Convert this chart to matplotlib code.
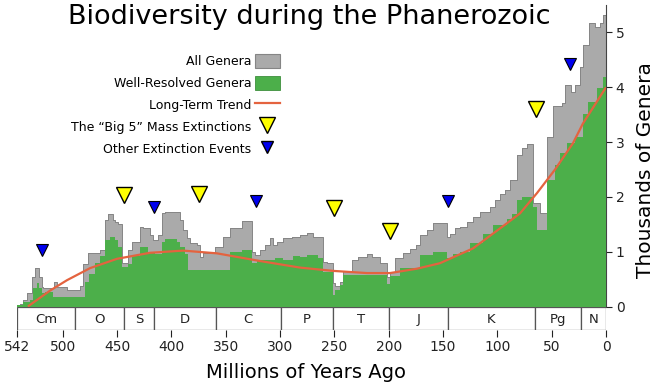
import matplotlib

matplotlib.use('Agg')

import matplotlib.pyplot as plt
from matplotlib.lines import Line2D
from matplotlib.patches import Patch

# All genera (thousands), step series: left edge in Ma -> value
ALL_MA = [542.0, 539.2, 536.5, 532.8, 528.2, 525.4, 521.8, 519.0, 518.1, 508.0,
          505.2, 496.0, 484.0, 481.3, 476.7, 465.6, 461.0, 458.3, 453.7, 451.8,
          449.1, 445.4, 439.9, 436.2, 428.8, 426.1, 419.6, 416.9, 412.3, 408.6,
          405.8, 392.0, 389.2, 385.6, 382.8, 376.4, 373.6, 370.8, 364.4, 361.6,
          359.8, 352.4, 346.0, 335.0, 325.7, 323.0, 318.4, 313.8, 309.2, 306.4,
          302.7, 297.2, 288.9, 281.6, 275.1, 269.6, 260.4, 256.7, 251.2, 249.4,
          245.0, 242.0, 233.7, 228.2, 219.9, 215.3, 208.0, 201.5, 198.8, 194.2,
          186.8, 180.4, 175.0, 171.2, 164.7, 159.2, 146.3, 143.6, 139.0, 134.3,
          127.9, 122.4, 115.9, 106.8, 102.1, 97.5, 92.9, 88.3, 81.9, 77.3,
          72.7, 67.2, 60.7, 54.3, 48.8, 40.5, 37.7, 32.2, 28.5, 24.0,
          21.2, 15.7, 10.1, 5.5, 2.8]
ALL_K = [0.02, 0.05, 0.12, 0.25, 0.54, 0.70, 0.54, 0.36, 0.33, 0.45,
         0.36, 0.31, 0.38, 0.78, 0.97, 1.03, 1.58, 1.69, 1.58, 1.54,
         1.51, 0.79, 1.03, 1.18, 1.45, 1.43, 1.30, 1.21, 1.30, 1.70,
         1.72, 1.58, 1.40, 1.25, 1.16, 1.12, 0.90, 0.98, 1.00, 0.98,
         1.09, 1.27, 1.43, 1.56, 1.00, 0.94, 1.03, 1.12, 1.25, 1.12,
         1.18, 1.25, 1.27, 1.30, 1.34, 1.27, 0.81, 0.79, 0.43, 0.38,
         0.45, 0.65, 0.85, 0.91, 0.96, 0.91, 0.79, 0.54, 0.63, 0.88,
         0.97, 1.05, 1.12, 1.30, 1.40, 1.52, 1.27, 1.33, 1.43, 1.45,
         1.54, 1.63, 1.72, 1.81, 1.94, 2.06, 2.13, 2.31, 2.76, 2.89,
         2.96, 1.88, 1.70, 3.09, 3.65, 3.71, 4.04, 3.92, 4.04, 4.37,
         4.77, 5.18, 5.10, 5.17, 5.32]

# Well-resolved genera (thousands)
WR_MA = [542.0, 536.5, 530.0, 527.3, 523.6, 521.8, 519.0, 516.2, 508.9, 479.4,
         475.7, 470.0, 465.6, 461.0, 456.4, 451.8, 449.1, 445.4, 439.9, 436.2,
         428.8, 421.5, 415.0, 408.6, 405.8, 394.8, 392.0, 387.4, 384.6, 346.0,
         335.0, 325.7, 321.1, 304.6, 297.2, 288.0, 281.6, 275.1, 265.0, 260.4,
         251.2, 249.4, 245.0, 242.0, 201.5, 198.8, 189.6, 171.2, 159.2, 146.3,
         140.8, 134.3, 125.1, 113.2, 104.0, 91.1, 86.5, 81.9, 77.3, 67.2,
         63.5, 54.3, 46.9, 42.3, 35.9, 28.5, 21.2, 16.6, 8.3, 2.8]
WR_K = [0.02, 0.08, 0.12, 0.34, 0.43, 0.34, 0.24, 0.27, 0.18, 0.45,
        0.60, 0.80, 0.92, 1.21, 1.26, 1.21, 1.09, 0.72, 0.78, 0.92,
        1.09, 1.00, 0.95, 1.18, 1.23, 1.18, 1.09, 0.95, 0.66, 1.00,
        1.03, 0.79, 0.85, 0.88, 0.85, 0.92, 0.90, 0.94, 0.88, 0.63,
        0.21, 0.30, 0.40, 0.58, 0.41, 0.55, 0.70, 0.94, 1.00, 0.88,
        0.95, 1.00, 1.15, 1.33, 1.48, 1.60, 1.69, 1.94, 2.00, 1.82,
        1.40, 2.31, 2.58, 2.80, 2.98, 3.09, 3.52, 3.73, 3.98, 4.19]

# long-term trend
TREND_MA = [532.0, 520.8, 511.6, 496.0, 474.8, 450.0, 419.6, 389.2, 358.0, 318.4,
            281.6, 251.2, 219.9, 198.8, 173.9, 152.8, 122.4, 91.1, 79.1, 63.5,
            46.9, 30.4, 21.2, 0.0]
TREND_K = [0.0, 0.16, 0.29, 0.48, 0.70, 0.87, 0.98, 1.02, 0.97, 0.83,
           0.71, 0.65, 0.61, 0.61, 0.69, 0.79, 1.06, 1.52, 1.70, 2.07,
           2.50, 2.98, 3.34, 4.00]

BIG5_MA = [443.5, 374.5, 250.3, 199.0, 64.4]
BIG5_K = [2.03, 2.05, 1.80, 1.38, 3.60]
OTHER_MA = [519.0, 416.0, 322.0, 145.4, 33.0]
OTHER_K = [1.03, 1.82, 1.92, 1.92, 4.42]

PERIODS = ['Cm', 'O', 'S', 'D', 'C', 'P', 'T', 'J', 'K', 'Pg', 'N']
PERIOD_EDGES = [542.0, 488.3, 443.7, 416.0, 359.2, 299.0, 251.0, 199.6, 145.5, 65.5, 23.0, 0.0]
X_TICKS = [542, 500, 450, 400, 350, 300, 250, 200, 150, 100, 50, 0]

GRAY = '#aaaaaa'
GRAY_EDGE = '#858585'
GREEN = '#4caf4a'
TREND = '#e4633f'

fig = plt.figure(figsize=(6.59, 3.9), dpi=100)
ax = fig.add_axes([0.0258, 0.2141, 0.8938, 0.7729])
bar = fig.add_axes([0.0258, 0.1538, 0.8938, 0.0603])

ax_x = ALL_MA + [0.0]
ax_y = ALL_K + [ALL_K[-1]]
wr_x = WR_MA + [0.0]
wr_y = WR_K + [WR_K[-1]]

ax.fill_between(ax_x, ax_y, step='post', color=GRAY, linewidth=0, zorder=1)
ax.step(ax_x, ax_y, where='post', color=GRAY_EDGE, linewidth=0.7, zorder=2)
ax.fill_between(wr_x, wr_y, step='post', color=GREEN, linewidth=0, zorder=3)
ax.plot(TREND_MA, TREND_K, color=TREND, linewidth=1.6, zorder=5, solid_capstyle='butt')

ax.plot(BIG5_MA, BIG5_K, 'v', color='#ffff00', markeredgecolor='black',
        markeredgewidth=1.0, markersize=12, linestyle='none', zorder=6)
ax.plot(OTHER_MA, OTHER_K, 'v', color='#0000ee', markeredgecolor='black',
        markeredgewidth=0.8, markersize=8.5, linestyle='none', zorder=6)

ax.set_xlim(542, 0)
ax.set_ylim(0, 5.5)
ax.spines[['top', 'left', 'bottom']].set_visible(False)
ax.spines['right'].set_color('#444444')
ax.set_xticks([])
ax.yaxis.tick_right()
ax.set_yticks([0, 1, 2, 3, 4, 5])
ax.tick_params(axis='y', direction='out', length=4, labelsize=10, colors='#222222', pad=3)

# geologic period strip
for i, name in enumerate(PERIODS):
    start, end = PERIOD_EDGES[i], PERIOD_EDGES[i + 1]
    bar.bar(start, 1, width=end - start, bottom=0, align='edge',
            facecolor='white', edgecolor='#555555', linewidth=0.9)
    bar.text((start + end) / 2, 0.45, name, ha='center', va='center', fontsize=9.5, color='#222222')
bar.set_xlim(542, 0)
bar.set_ylim(0, 1)
bar.set_yticks([])
bar.set_xticks(X_TICKS)
bar.set_xticklabels([str(t) for t in X_TICKS])
for s in bar.spines.values():
    s.set_visible(False)
bar.tick_params(axis='x', direction='out', length=5, labelsize=10, colors='#222222', pad=2)

fig.text(0.470, 0.956, 'Biodiversity during the Phanerozoic', ha='center', va='center', fontsize=19.5)
fig.text(0.465, 0.046, 'Millions of Years Ago', ha='center', va='center', fontsize=14)
fig.text(0.979, 0.564, 'Thousands of Genera', ha='center', va='center', rotation=90, fontsize=14.5)

handles = [
    Patch(facecolor=GRAY, edgecolor=GRAY_EDGE, linewidth=0.8),
    Patch(facecolor=GREEN, edgecolor='#3d8f3c', linewidth=0.6),
    Line2D([], [], color=TREND, linewidth=1.6),
    Line2D([], [], marker='v', color='#ffff00', markeredgecolor='black', markersize=12, linestyle='none'),
    Line2D([], [], marker='v', color='#0000ee', markeredgecolor='black', markersize=8.5, linestyle='none'),
]
labels = ['All Genera', 'Well-Resolved Genera', 'Long-Term Trend',
          'The \u201cBig 5\u201d Mass Extinctions', 'Other Extinction Events']
ax.legend(handles, labels, loc='upper right', bbox_to_anchor=(0.438, 0.885),
          bbox_transform=fig.transFigure, frameon=False, markerfirst=False,
          fontsize=9, handlelength=2.0, handleheight=1.35, handletextpad=0.3,
          labelspacing=0.62, borderpad=0.2)

fig.savefig('out.png', dpi=100, facecolor='white')
